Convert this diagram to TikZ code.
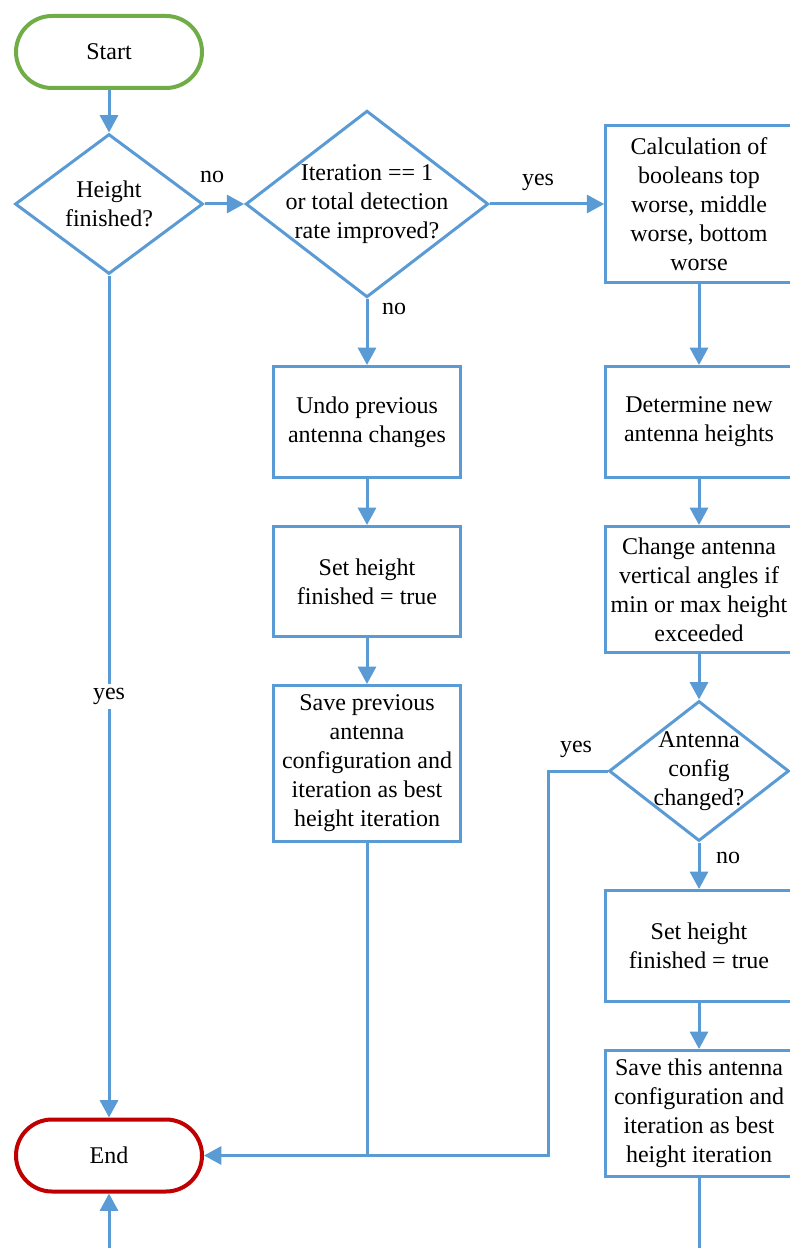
\documentclass[tikz,border=0pt]{standalone}
\usepackage{fontspec}
\setmainfont{Liberation Serif}
\newfontfamily\flowfont{Liberation Serif}
\usetikzlibrary{shapes.geometric,arrows.meta}
\definecolor{flowblue}{HTML}{5B9BD5}
\definecolor{startgreen}{HTML}{70AD47}
\definecolor{endred}{HTML}{C00000}
\begin{document}
\begin{tikzpicture}[x=0.75pt,y=-0.75pt,
  every node/.style={font=\flowfont\fontsize{18pt}{21.75pt}\selectfont, align=center, text=black},
  every label/.style={font=\flowfont\fontsize{18pt}{21.75pt}\selectfont, align=center, text=black},
  terminal/.style={draw, line width=3pt, rounded corners=27pt, minimum width=139.5pt, minimum height=54pt, inner sep=0pt},
  procbox/.style={draw=flowblue, line width=2.25pt, minimum width=140pt, inner sep=0pt},
  decision/.style={draw=flowblue, line width=2.25pt, shape=diamond, inner sep=0pt},
  flow/.style={draw=flowblue, line width=2.25pt},
  arr/.style={flow, -{Triangle[length=13pt,width=13.5pt]}},
  lbl/.style={inner sep=1pt}]
\useasboundingbox (0,0) rectangle (789,1248);

% terminals
\node[terminal, draw=startgreen] (start) at (109,52) {Start};
\node[terminal, draw=endred] (endn) at (109,1155.5) {End};

% decisions
\node[decision, minimum width=141pt, minimum height=105pt,
      label={center:Height\\finished?}] (d1) at (109,204) {};
\node[decision, minimum width=182pt, minimum height=140pt,
      label={center:Iteration == 1\\or total detection\\rate improved?}] (d2) at (367,204) {};
\node[decision, minimum width=135pt, minimum height=105pt,
      label={center:Antenna\\config\\changed?}] (d3) at (699,771) {};

% right branch
\node[procbox, minimum height=117.75pt] (calc) at (699,204)
  {Calculation of\\booleans top\\worse, middle\\worse, bottom\\worse};
\node[procbox, minimum height=83.25pt] (det) at (699,422)
  {Determine new\\antenna heights};
\node[procbox, minimum height=94.5pt] (chg) at (699,589.5)
  {Change antenna\\vertical angles if\\min or max height\\exceeded};
\node[procbox, minimum height=83.25pt] (set2) at (699,946)
  {Set height\\finished = true};
\node[procbox, minimum height=94.5pt] (save2) at (699,1113.5)
  {Save this antenna\\configuration and\\iteration as best\\height iteration};

% middle branch
\node[procbox, minimum height=83.25pt] (undo) at (367,422)
  {Undo previous\\antenna changes};
\node[procbox, minimum height=82.5pt] (set1) at (367,581.5)
  {Set height\\finished = true};
\node[procbox, minimum height=117pt] (save1) at (367,763.5)
  {Save previous\\antenna\\configuration and\\iteration as best\\height iteration};

% free ends at the lower border
\coordinate (rightexit) at (699,1248);
\coordinate (lowentry) at (109,1248);
\coordinate (yesbend) at (548,771);

% connectors
\draw[arr] (start.south) -- (d1.north);
\draw[arr] (d1.east) -- (d2.west);
\draw[arr] (d2.east) -- (calc.west);
\draw[arr] (calc.south) -- (det.north);
\draw[arr] (det.south) -- (chg.north);
\draw[arr] (chg.south) -- (d3.north);
\draw[arr] (d3.south) -- (set2.north);
\draw[arr] (set2.south) -- (save2.north);
\draw[flow] (save2.south) -- (rightexit);
\draw[arr] (d2.south) -- (undo.north);
\draw[arr] (undo.south) -- (set1.north);
\draw[arr] (set1.south) -- (save1.north);
\draw[flow] (save1.south) -- (save1.south |- endn.east);
\draw[arr] (d3.west) -- (yesbend) -- (yesbend |- endn.east) -- (endn.east);
\draw[arr] (d1.south) -- node[fill=white, inner sep=3pt, pos=0.5] {yes} (endn.north);
\draw[arr] (lowentry) -- (endn.south);

% branch labels
\node[lbl] (lno1) at (212,177) {no};
\node[lbl] (lyes1) at (538,182) {yes};
\node[lbl] (lno2) at (394,309) {no};
\node[lbl] (lyes2) at (576,749) {yes};
\node[lbl] (lno3) at (728,858) {no};
\end{tikzpicture}
\end{document}
